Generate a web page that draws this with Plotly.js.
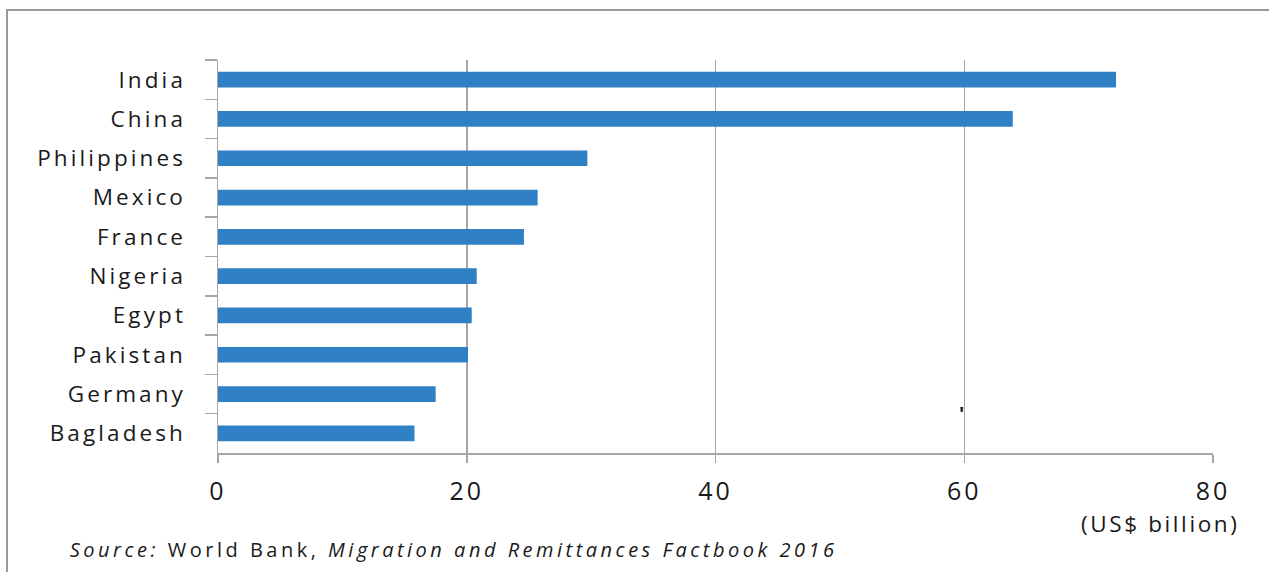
<!DOCTYPE html>
<html>
<head>
<meta charset="utf-8">
<script src="https://cdn.plot.ly/plotly-3.0.1.min.js"></script>
<style>
  html, body { margin: 0; padding: 0; background: #ffffff; }
  #chart { width: 1269px; height: 572px; }
  #chart .ytick text { letter-spacing: 3.1px; }
  #chart .xtick text { letter-spacing: 3px; }
  #chart .annotation[data-index="0"] .annotation-text { letter-spacing: 2.6px; }
  #chart .annotation[data-index="1"] .annotation-text { letter-spacing: 3.5px; }
</style>
</head>
<body>
<div id="chart"></div>
<script>
const countries = ["India", "China", "Philippines", "Mexico", "France", "Nigeria", "Egypt", "Pakistan", "Germany", "Bagladesh"];
const remittances = [72.2, 63.9, 29.7, 25.7, 24.6, 20.8, 20.4, 20.1, 17.5, 15.8];
const xTicks = [0, 20, 40, 60, 80];
const unitLabel = "(US$ billion)";
const sourceText = "<i>Source:</i> World Bank, <i>Migration and Remittances Factbook 2016</i>";

const FONT = "Open Sans, DejaVu Sans, sans-serif";
const GREY = "#a6a6a6";

const trace = {
  type: "bar",
  orientation: "h",
  x: remittances,
  y: countries,
  marker: { color: "rgb(48,128,198)" },
  width: 0.4,
  hoverinfo: "x+y"
};

const layout = {
  width: 1269,
  height: 572,
  margin: { l: 218, r: 56, t: 60, b: 119 },
  paper_bgcolor: "#ffffff",
  plot_bgcolor: "#ffffff",
  showlegend: false,
  font: { family: FONT, color: "#1a1a1a" },
  xaxis: {
    range: [0, 80],
    tickvals: xTicks,
    ticktext: xTicks.map(String),
    showgrid: true,
    gridcolor: GREY,
    gridwidth: 1.5,
    showline: true,
    linecolor: GREY,
    linewidth: 1.5,
    ticks: "outside",
    ticklen: 8,
    tickcolor: GREY,
    tickwidth: 1.5,
    ticklabelstandoff: 7,
    zeroline: false,
    tickfont: { family: FONT, size: 25, color: "#1a1a1a" },
    fixedrange: true
  },
  yaxis: {
    type: "category",
    categoryorder: "array",
    categoryarray: countries,
    autorange: "reversed",
    showline: true,
    linecolor: GREY,
    linewidth: 1.5,
    showgrid: false,
    ticks: "outside",
    tickson: "boundaries",
    ticklen: 12,
    tickcolor: GREY,
    tickwidth: 1.5,
    ticklabelstandoff: 26,
    tickfont: { family: FONT, size: 22.5, color: "#1a1a1a" },
    fixedrange: true
  },
  shapes: [
    {
      type: "rect", xref: "paper", yref: "paper",
      xsizemode: "pixel", ysizemode: "pixel",
      xanchor: 0, yanchor: 0,
      x0: -211, x1: 1060, y0: -125, y1: 443,
      line: { color: "#9a9a9a", width: 2 },
      fillcolor: "rgba(0,0,0,0)",
      layer: "below"
    }
  ],
  annotations: [
    {
      xref: "paper", yref: "paper",
      x: 0.947, y: -0.18,
      xanchor: "center", yanchor: "middle",
      text: unitLabel,
      showarrow: false,
      font: { family: FONT, size: 22.5, color: "#1a1a1a" }
    },
    {
      xref: "paper", yref: "paper",
      x: 0.237, y: -0.245,
      xanchor: "center", yanchor: "middle",
      text: sourceText,
      showarrow: false,
      font: { family: FONT, size: 20, color: "#1a1a1a" }
    },
    {
      xref: "x", yref: "paper",
      x: 59.75, y: 0.10,
      xanchor: "center", yanchor: "middle",
      text: "<b>'</b>",
      showarrow: false,
      font: { family: FONT, size: 20, color: "#1a1a1a" }
    }
  ]
};

Plotly.newPlot("chart", [trace], layout, { displayModeBar: false, staticPlot: true });
</script>
</body>
</html>
